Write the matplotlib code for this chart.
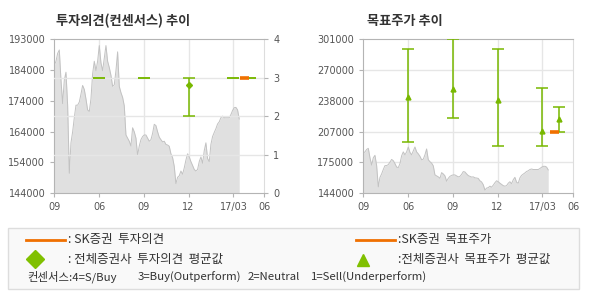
import numpy as np
import matplotlib
matplotlib.use('Agg')
import matplotlib.pyplot as plt
from matplotlib.patches import Rectangle
from matplotlib.lines import Line2D

plt.rcParams['font.family'] = ['Noto Sans CJK KR', 'DejaVu Sans']

# x axis (tick positions in chart units and their labels)
xtick_pos = [0, 1, 2, 3, 4, 4.69]
xtick_labels = ['09', '06', '09', '12', '17/03', '06']
price_end = 4.13

# share price (KRW)
price = [184800, 186000, 188500, 189600, 180000, 172500, 180000, 182500, 172000, 150300,
         160000, 163500, 168000, 172000, 172000, 173000, 175500, 178300, 177000, 174000,
         170500, 170000, 174000, 182000, 186000, 183000, 186000, 191000, 185500, 183000,
         187000, 191000, 186000, 184000, 181500, 178000, 178500, 183000, 189000, 178000,
         176000, 174500, 171800, 162500, 161500, 160500, 159000, 164800, 163500, 161500,
         156000, 159000, 161000, 162000, 162500, 162500, 161500, 160500, 161000, 163000,
         165900, 165500, 163500, 161800, 161000, 160300, 160500, 159500, 159300, 158900,
         156500, 155300, 152500, 147000, 149000, 149500, 151000, 150000, 152000, 154500,
         156500, 155500, 154000, 152800, 151500, 151000, 151500, 154000, 155500, 153500,
         157500, 160000, 155000, 154000, 159500, 162000, 163300, 164500, 166000, 166700,
         168000, 168500, 168000, 168000, 168000, 168000, 169000, 170300, 171200, 171300,
         170500, 167600]

# opinion consensus (all brokers): position, low, avg, high
op_x = [1, 2, 3, 4, 4.38]
op_low = [3, 3, 2, 3, 3]
op_avg = [3, 3, 2.8, 3, 3]
op_high = [3, 3, 3, 3, 3]
sk_op_x = [4.15, 4.35]
sk_op = [3, 3]

# target price consensus
tp_x = [1, 2, 3, 4, 4.37]
tp_low = [196500, 221000, 191500, 191500, 206800]
tp_avg = [242000, 250000, 239000, 207500, 219800]
tp_high = [291000, 301000, 291000, 251000, 231500]
sk_tp_x = [4.17, 4.36]
sk_tp = [206200, 206200]

left_yticks = ['144000', '154000', '164000', '174000', '184000', '193000']
right_yticks = ['144000', '175000', '207000', '238000', '270000', '301000']
op_ticks = ['0', '1', '2', '3', '4']

green = '#78b800'
orange = '#f07000'
fill_c = '#e0e0e0'
edge_c = '#c2c2c2'
grid_c = '#e6e6e6'
spine_c = '#b4b4b4'
tick_c = '#555555'

fig = plt.figure(figsize=(5.9, 3.0), dpi=100)

px = np.linspace(0, price_end, len(price))


def style(ax):
    for s in ['left', 'bottom', 'top']:
        ax.spines[s].set_color(spine_c)
    ax.spines['right'].set_color('#dddddd')
    ax.tick_params(colors=spine_c, labelcolor=tick_c, labelsize=7, length=3, width=0.8)
    for lab in ax.get_xticklabels() + ax.get_yticklabels():
        lab.set_family('DejaVu Sans')
    ax.set_xlim(0, xtick_pos[-1])
    ax.set_xticks(xtick_pos)
    ax.set_xticklabels(xtick_labels, family='DejaVu Sans')
    for xv in xtick_pos[1:-1]:
        ax.axvline(xv, color=grid_c, lw=1, zorder=0)


# ---- left: opinion chart
ax1 = fig.add_axes([54.3 / 590, 1 - 193 / 300, 210 / 590, 153.7 / 300])
ax1.fill_between(px, 144000, price, color=fill_c, lw=0, zorder=1)
ax1.plot(px, price, color=edge_c, lw=0.7, zorder=2)
ax1.set_ylim(144000, 193000)
ax1.set_yticks(np.linspace(144000, 193000, 6))
ax1.set_yticklabels(left_yticks, family='DejaVu Sans')
style(ax1)

ax1b = ax1.twinx()
ax1b.set_ylim(0, 4)
ax1b.set_yticks(range(5))
ax1b.set_yticklabels(op_ticks, family='DejaVu Sans')
ax1b.tick_params(colors=spine_c, labelcolor=tick_c, labelsize=7, length=3, width=0.8)
for s in ax1b.spines.values():
    s.set_visible(False)
for yv in [1, 2, 3]:
    ax1b.axhline(yv, color=grid_c, lw=1, zorder=0)
ax1.set_zorder(0)
ax1b.set_zorder(1)
ax1.patch.set_visible(False)

op_x_a = np.array(op_x)
op_avg_a = np.array(op_avg)
op_err = [op_avg_a - np.array(op_low), np.array(op_high) - op_avg_a]
ax1b.errorbar(op_x_a, op_avg_a, yerr=op_err, fmt='none', ecolor=green,
              elinewidth=1.1, capsize=4.5, capthick=1.1, zorder=3)
spread = np.array(op_high) > np.array(op_low)
ax1b.plot(op_x_a[spread], op_avg_a[spread], 'D', color=green, ms=3, zorder=4)
ax1b.plot(sk_op_x, sk_op, color=orange, lw=2.6, solid_capstyle='butt', zorder=5)

# ---- right: target price chart
ax2 = fig.add_axes([363.3 / 590, 1 - 193 / 300, 210 / 590, 153.7 / 300])
ax2.fill_between(px, 144000, price, color=fill_c, lw=0, zorder=1)
ax2.plot(px, price, color=edge_c, lw=0.7, zorder=2)
ax2.set_ylim(144000, 301000)
yt = np.linspace(144000, 301000, 6)
ax2.set_yticks(yt)
ax2.set_yticklabels(right_yticks, family='DejaVu Sans')
for yv in yt[1:-1]:
    ax2.axhline(yv, color=grid_c, lw=1, zorder=0)
style(ax2)

tp_avg_a = np.array(tp_avg)
tp_err = [tp_avg_a - np.array(tp_low), np.array(tp_high) - tp_avg_a]
ax2.errorbar(tp_x, tp_avg_a, yerr=tp_err, fmt='none', ecolor=green,
             elinewidth=1.1, capsize=4.5, capthick=1.1, zorder=3)
ax2.plot(tp_x, tp_avg_a, '^', color=green, ms=3.5, zorder=4)
ax2.plot(sk_tp_x, sk_tp, color=orange, lw=2.6, solid_capstyle='butt', zorder=5)

# titles
fig.text(56 / 590, 1 - 20.5 / 300, '투자의견(컨센서스) 추이', fontsize=9.5, fontweight='bold',
         color='#333333', va='center')
fig.text(367 / 590, 1 - 20.5 / 300, '목표주가 추이', fontsize=9.5, fontweight='bold',
         color='#333333', va='center')

# legend box
W, H = 590, 300
fig.patches.append(Rectangle((8 / W, 1 - 289 / H), 571 / W, 61 / H, transform=fig.transFigure,
                             facecolor='#f9f9f9', edgecolor='#dddddd', lw=1, zorder=0))


def fy(y):
    return 1 - y / H


fig.lines.append(Line2D([26 / W, 65 / W], [fy(240), fy(240)], transform=fig.transFigure,
                        color=orange, lw=2))
fig.lines.append(Line2D([356 / W, 395 / W], [fy(240), fy(240)], transform=fig.transFigure,
                        color=orange, lw=2))
fig.lines.append(Line2D([35 / W], [fy(259)], transform=fig.transFigure, marker='D',
                        color='#80c000', ms=9.5, lw=0))
fig.lines.append(Line2D([363 / W], [fy(259.5)], transform=fig.transFigure, marker='^',
                        color='#80c000', ms=9, lw=0))

lt = dict(fontsize=9, color='#333333', va='center')
fig.text(68 / W, fy(240), ': SK증권  투자의견', **lt)
fig.text(68 / W, fy(259), ': 전체증권사  투자의견  평균값', **lt)
fig.text(398 / W, fy(240), ':SK증권  목표주가', **lt)
fig.text(398 / W, fy(259), ':전체증권사  목표주가  평균값', **lt)

consensus_labels = ['컨센서스:4=S/Buy', '3=Buy(Outperform)', '2=Neutral', '1=Sell(Underperform)']
consensus_x = [27, 138, 248, 311]
for cx, cl in zip(consensus_x, consensus_labels):
    fig.text(cx / W, fy(277), cl, fontsize=8.2, color='#333333', va='center')

fig.savefig('out.png', dpi=100)
